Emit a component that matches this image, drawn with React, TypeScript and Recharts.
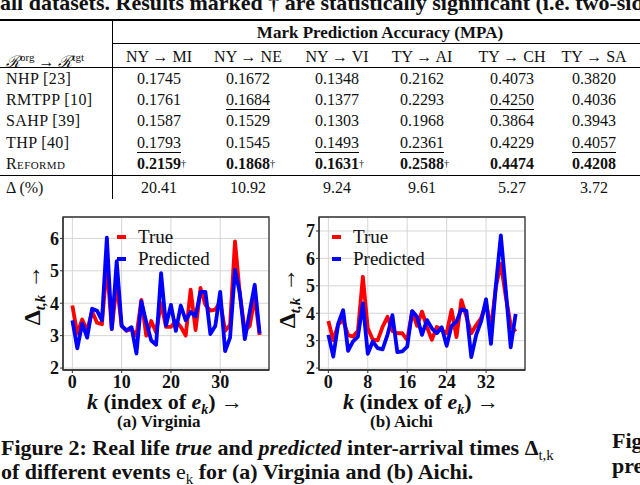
import React from "react";
import { LineChart, Line, XAxis, YAxis, CartesianGrid, ReferenceArea } from "recharts";

// ---- table data ----
const columns = ["NY → MI", "NY → NE", "NY → VI", "TY → AI", "TY → CH", "TY → SA"];
const methods = ["NHP [23]", "RMTPP [10]", "SAHP [39]", "THP [40]"];
const nhpScores = [0.1745, 0.1672, 0.1348, 0.2162, 0.4073, 0.382];
const rmtppScores = [0.1761, 0.1684, 0.1377, 0.2293, 0.425, 0.4036];
const sahpScores = [0.1587, 0.1529, 0.1303, 0.1968, 0.3864, 0.3943];
const thpScores = [0.1793, 0.1545, 0.1493, 0.2361, 0.4229, 0.4057];
const reformdScores = [0.2159, 0.1868, 0.1631, 0.2588, 0.4474, 0.4208];
const deltaPct = [20.41, 10.92, 9.24, 9.61, 5.27, 3.72];
const secondBest = ["THP [40]", "RMTPP [10]", "THP [40]", "THP [40]", "RMTPP [10]", "THP [40]"];
const significant = [true, true, true, true, false, false];

// ---- figure data ----
const virginiaK = [0, 1, 2, 3, 4, 5, 6, 7, 8, 9, 10, 11, 12, 13, 14, 15, 16, 17, 18, 19, 20, 21, 22, 23, 24, 25, 26, 27, 28, 29, 30, 31, 32, 33, 34, 35, 36, 37, 38];
const virginiaTrue = [3.93, 3.06, 3.5, 3.16, 3.75, 3.4, 3.35, 5.2, 3.2, 4.6, 3.3, 3.15, 3.2, 3.0, 4.1, 3.0, 3.45, 3.1, 4.0, 3.27, 3.27, 3.45, 3.27, 3.0, 4.42, 3.17, 4.47, 3.95, 3.77, 3.8, 4.05, 3.15, 3.33, 5.91, 4.25, 3.15, 3.3, 4.2, 3.02];
const virginiaPred = [3.47, 2.61, 3.37, 2.94, 3.83, 3.77, 3.47, 6.02, 3.2, 5.3, 3.3, 3.16, 3.26, 2.45, 4.06, 3.41, 2.85, 2.72, 4.93, 3.31, 3.95, 3.15, 3.93, 3.47, 3.73, 3.6, 4.35, 4.35, 3.05, 3.3, 4.35, 2.52, 2.94, 5.03, 4.3, 2.89, 3.75, 4.57, 3.07];

const aichiK = [0, 1, 2, 3, 4, 5, 6, 7, 8, 9, 10, 11, 12, 13, 14, 15, 16, 17, 18, 19, 20, 21, 22, 23, 24, 25, 26, 27, 28, 29, 30, 31, 32, 33, 34, 35, 36, 37, 38];
const aichiTrue = [3.72, 3.01, 3.6, 3.75, 3.2, 3.15, 3.36, 5.33, 3.45, 3.04, 3.01, 3.5, 3.87, 3.35, 3.27, 3.27, 3.02, 4.07, 3.54, 4.06, 3.5, 3.03, 3.5, 3.39, 3.27, 4.12, 3.13, 4.48, 3.88, 3.27, 3.57, 3.82, 4.36, 3.45, 4.97, 5.81, 4.6, 3.57, 3.33];
const aichiPred = [3.21, 2.42, 3.62, 4.11, 2.63, 2.97, 3.15, 4.36, 2.52, 2.97, 2.73, 2.68, 3.21, 3.93, 2.58, 2.61, 2.78, 4.08, 3.87, 3.21, 3.75, 3.45, 3.27, 3.49, 2.81, 3.54, 3.7, 4.14, 4.09, 2.4, 3.21, 3.7, 4.51, 2.88, 5.03, 6.84, 4.85, 2.76, 3.97];

const virginiaXTicks = [0, 10, 20, 30];
const virginiaYTicks = [2, 3, 4, 5, 6];
const aichiXTicks = [0, 8, 16, 24, 32];
const aichiYTicks = [2, 3, 4, 5, 6, 7];

const serif = "'Liberation Serif', 'Times New Roman', serif";

const colX = [159, 248, 337, 422, 512, 594];
const rowY = [79, 100, 121, 143, 164];

function Cell({ x, y, children, bold, underline }: any) {
  return (
    <div
      style={{
        position: "absolute",
        left: x - 50,
        top: y - 9,
        width: 100,
        textAlign: "center",
        lineHeight: "18px",
        fontWeight: bold ? "bold" : "normal",
      }}
    >
      <span style={{ borderBottom: underline ? "1.3px solid #000" : "none", paddingBottom: 1 }}>{children}</span>
    </div>
  );
}

function ResultsTable() {
  const rows = [nhpScores, rmtppScores, sahpScores, thpScores];
  return (
    <div style={{ position: "absolute", left: 0, top: 0, width: 640, height: 205, fontFamily: serif, fontSize: 16, color: "#111" }}>
      <div style={{ position: "absolute", left: 0, top: -8, whiteSpace: "nowrap", fontWeight: "bold", fontSize: 22, lineHeight: "22px" }}>
        all datasets. Results marked † are statistically significant (i.e. two-sided
      </div>
      <div style={{ position: "absolute", left: 0, top: 19, width: 640, height: 2, background: "#000" }} />
      <div style={{ position: "absolute", left: 112, top: 21, width: 1, height: 178, background: "#000" }} />
      <div style={{ position: "absolute", left: 112, top: 24, width: 528, textAlign: "center", fontWeight: "bold", fontSize: 17, lineHeight: "18px", paddingLeft: 4 }}>
        Mark Prediction Accuracy (MPA)
      </div>
      <div style={{ position: "absolute", left: 112, top: 43, width: 528, height: 1, background: "#000" }} />
      <div style={{ position: "absolute", left: 6, top: 48, lineHeight: "18px", whiteSpace: "nowrap" }}>
        <i>ℛ</i>
        <sup style={{ fontSize: 11 }}>org</sup> → <i>ℛ</i>
        <sup style={{ fontSize: 11 }}>tgt</sup>
      </div>
      {columns.map((c, j) => (
        <Cell key={c} x={colX[j]} y={57}>
          {c}
        </Cell>
      ))}
      <div style={{ position: "absolute", left: 0, top: 67, width: 640, height: 1, background: "#000" }} />
      {methods.map((m, i) => (
        <React.Fragment key={m}>
          <div style={{ position: "absolute", left: 6, top: rowY[i] - 9, lineHeight: "18px", letterSpacing: 0.4 }}>{m}</div>
          {rows[i].map((v, j) => (
            <Cell key={j} x={colX[j]} y={rowY[i]} underline={secondBest[j] === m}>
              {v.toFixed(4)}
            </Cell>
          ))}
        </React.Fragment>
      ))}
      <div style={{ position: "absolute", left: 6, top: rowY[4] - 9, lineHeight: "18px", fontVariant: "small-caps", letterSpacing: 0.4 }}>Reformd</div>
      {reformdScores.map((v, j) => (
        <Cell key={j} x={colX[j]} y={rowY[4]} bold>
          {v.toFixed(4)}
          {significant[j] ? <sup style={{ fontSize: 10, fontWeight: "normal", position: "absolute" }}>†</sup> : null}
        </Cell>
      ))}
      <div style={{ position: "absolute", left: 0, top: 175, width: 640, height: 1, background: "#000" }} />
      <div style={{ position: "absolute", left: 6, top: 179, lineHeight: "18px" }}>Δ (%)</div>
      {deltaPct.map((v, j) => (
        <Cell key={j} x={colX[j]} y={188}>
          {v.toFixed(2)}
        </Cell>
      ))}
    </div>
  );
}

const tickStyle = { fontFamily: serif, fontWeight: "bold", fontSize: 18, fill: "#111" };

function EventPlot({ k, truth, pred, xTicks, yTicks, yDomain, left, width, yAxisWidth, rightMargin }: any) {
  const data = k.map((kk: number, i: number) => ({ k: kk, truth: truth[i], pred: pred[i] }));
  const xDomain = [-1.9, 39.9];
  return (
    <div style={{ position: "absolute", left, top: 200 }}>
      <LineChart width={width} height={215} data={data} margin={{ top: 17, right: rightMargin, bottom: 0, left: 0 }}>
        <CartesianGrid stroke="#d6d6d6" strokeWidth={1} />
        <XAxis
          dataKey="k"
          type="number"
          domain={xDomain}
          ticks={xTicks}
          allowDataOverflow
          height={45}
          tick={tickStyle}
          tickSize={3}
          tickMargin={2}
          tickLine={{ stroke: "#333" }}
          axisLine={{ stroke: "#333", strokeWidth: 1.3 }}
        />
        <YAxis
          type="number"
          domain={yDomain}
          ticks={yTicks}
          allowDataOverflow
          width={yAxisWidth}
          tick={tickStyle}
          tickSize={3}
          tickMargin={1}
          tickLine={{ stroke: "#333" }}
          axisLine={{ stroke: "#333", strokeWidth: 1.3 }}
        />
        <ReferenceArea x1={xDomain[0]} x2={xDomain[1]} y1={yDomain[0]} y2={yDomain[1]} fill="none" stroke="#333" strokeWidth={1.3} />
        <Line type="linear" dataKey="truth" name="True" stroke="#ff0000" strokeWidth={3.8} strokeLinejoin="round" dot={false} isAnimationActive={false} />
        <Line type="linear" dataKey="pred" name="Predicted" stroke="#0000ff" strokeWidth={3.8} strokeLinejoin="round" dot={false} isAnimationActive={false} />
      </LineChart>
    </div>
  );
}

function PlotLegend({ x, y }: { x: number; y: number }) {
  const items = [
    { name: "True", color: "#ff0000" },
    { name: "Predicted", color: "#0000ff" },
  ];
  return (
    <div style={{ position: "absolute", left: x, top: y, fontFamily: serif, fontSize: 19 }}>
      {items.map((it, i) => (
        <div key={it.name} style={{ position: "absolute", left: 0, top: i * 22, whiteSpace: "nowrap", lineHeight: "22px" }}>
          <span style={{ position: "absolute", left: 0, top: 9, width: 9, height: 4, background: it.color }} />
          <span style={{ position: "absolute", left: 21 }}>{it.name}</span>
        </div>
      ))}
    </div>
  );
}

function YLabel({ cx, cy }: { cx: number; cy: number }) {
  return (
    <div
      style={{
        position: "absolute",
        left: cx,
        top: cy,
        transform: "translate(-50%, -50%) rotate(-90deg)",
        whiteSpace: "nowrap",
        fontFamily: serif,
        fontWeight: "bold",
        fontSize: 24,
        lineHeight: "24px",
      }}
    >
      Δ<sub style={{ fontSize: 15, fontStyle: "italic" }}>t,k</sub> →
    </div>
  );
}

function XLabel({ cx, cy }: { cx: number; cy: number }) {
  return (
    <div
      style={{
        position: "absolute",
        left: cx,
        top: cy,
        transform: "translate(-50%, -50%)",
        whiteSpace: "nowrap",
        fontFamily: serif,
        fontWeight: "bold",
        fontSize: 22,
        lineHeight: "22px",
      }}
    >
      <i>k</i> (index of <i>e</i>
      <sub style={{ fontSize: 14, lineHeight: 0 }}>
        <i>k</i>
      </sub>
      ) →
    </div>
  );
}

export default function App() {
  return (
    <div style={{ position: "absolute", left: 0, top: 0, width: 640, height: 485, overflow: "hidden", background: "#fff", color: "#111" }}>
      <ResultsTable />
      <EventPlot k={virginiaK} truth={virginiaTrue} pred={virginiaPred} xTicks={virginiaXTicks} yTicks={virginiaYTicks} yDomain={[1.94, 6.66]} left={0} width={290} yAxisWidth={63} rightMargin={21} />
      <EventPlot k={aichiK} truth={aichiTrue} pred={aichiPred} xTicks={aichiXTicks} yTicks={aichiYTicks} yDomain={[1.93, 7.51]} left={280} width={260} yAxisWidth={39} rightMargin={15} />
      <PlotLegend x={117} y={226} />
      <PlotLegend x={332} y={226} />
      <YLabel cx={36} cy={295} />
      <YLabel cx={291} cy={298} />
      <XLabel cx={165} cy={402} />
      <XLabel cx={421} cy={402} />
      <div style={{ position: "absolute", left: 0, top: 410, width: 640, fontFamily: serif, fontWeight: "bold", fontSize: 17, color: "#111" }}>
        <div style={{ position: "absolute", left: 117, top: 2, whiteSpace: "nowrap" }}>(a) Virginia</div>
        <div style={{ position: "absolute", left: 370, top: 2, whiteSpace: "nowrap" }}>(b) Aichi</div>
        <div style={{ position: "absolute", left: 1, top: 26, whiteSpace: "nowrap", fontSize: 22, lineHeight: "24px" }}>
          Figure 2: Real life <i>true</i> and <i>predicted</i> inter-arrival times Δ
          <sub style={{ fontWeight: "normal", fontSize: 15, lineHeight: 0 }}>t,k</sub>
        </div>
        <div style={{ position: "absolute", left: 1, top: 50, whiteSpace: "nowrap", fontSize: 22, lineHeight: "24px" }}>
          of different events <span style={{ fontWeight: "normal" }}>e</span>
          <sub style={{ fontWeight: "normal", fontSize: 15, lineHeight: 0 }}>k</sub> for (a) Virginia and (b) Aichi.
        </div>
        <div style={{ position: "absolute", left: 612, top: 19, whiteSpace: "nowrap", fontSize: 22, lineHeight: "24px" }}>Figure</div>
        <div style={{ position: "absolute", left: 612, top: 44, whiteSpace: "nowrap", fontSize: 22, lineHeight: "24px" }}>predicted</div>
      </div>
    </div>
  );
}
